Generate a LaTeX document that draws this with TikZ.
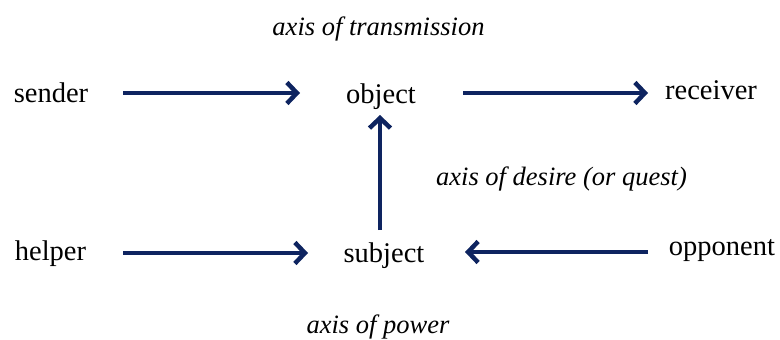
\documentclass[tikz,border=0pt]{standalone}
\usepackage{fontspec}
\setmainfont{Liberation Serif}
\usetikzlibrary{arrows.meta}
\definecolor{navy}{RGB}{14,36,96}
\tikzset{
  actant/.style={inner sep=0pt, anchor=base, font=\fontsize{28.5}{30}\selectfont},
  axislabel/.style={inner sep=0pt, anchor=base, font=\fontsize{26.5}{28}\selectfont\itshape},
  conn/.style={draw=navy, line width=4.5pt, -{Straight Barb[length=10pt,width=21pt,line width=4.5pt]}}
}
\begin{document}
\begin{tikzpicture}[x=1pt,y=-1pt]
\useasboundingbox (0,0) rectangle (780,340);
% actants
\node[actant] (sender) at (51,102) {sender};
\node[actant] (object) at (381,103) {object};
\node[actant] (receiver) at (711,99) {receiver};
\node[actant] (helper) at (50.5,260) {helper};
\node[actant] (subject) at (384,262) {subject};
\node[actant] (opponent) at (722,255) {opponent};
% axis labels
\node[axislabel] (trans) at (378.5,35) {axis of transmission};
\node[axislabel] (desire) at (561.5,185) {axis of desire (or quest)};
\node[axislabel] (power) at (378,333) {axis of power};
% connector ends
\coordinate (s1) at (123,93);   \coordinate (s2) at (300,93);
\coordinate (r1) at (463,93);   \coordinate (r2) at (648,93);
\coordinate (h1) at (123,253);  \coordinate (h2) at (308,253);
\coordinate (o1) at (648,252);  \coordinate (o2) at (465,252);
\coordinate (v1) at (380,230);  \coordinate (v2) at (380,115);
% connectors
\draw[conn] (s1) -- (s2);
\draw[conn] (r1) -- (r2);
\draw[conn] (h1) -- (h2);
\draw[conn] (o1) -- (o2);
\draw[conn] (v1) -- (v2);
\end{tikzpicture}
\end{document}
